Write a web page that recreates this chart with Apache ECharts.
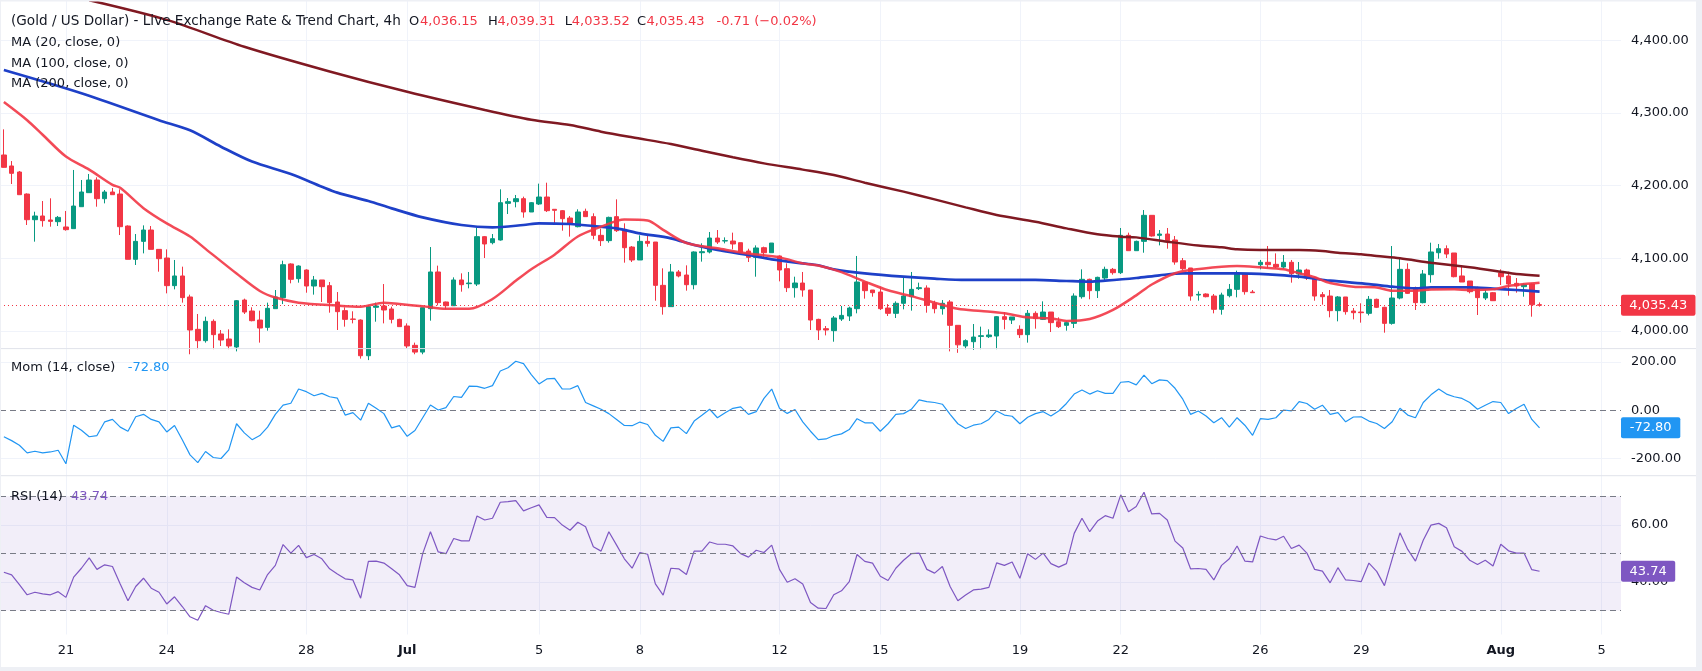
<!DOCTYPE html>
<html><head><meta charset="utf-8">
<script src="https://cdn.jsdelivr.net/npm/echarts@6/dist/echarts.min.js"></script>
<style>html,body{margin:0;padding:0;background:#fff;}#c{width:1702px;height:671px;}</style>
</head><body><div id="c"></div>
<script>
// ---------- DATA ----------
const opens = [
4242.1,4227.0,4218.7,4188.4,4153.1,4158.2,4152.7,4150.4,4143.1,4140.8,
4171.0,4190.3,4207.7,4182.0,4191.2,4188.4,4144.4,4098.6,4123.3,4138.9,
4112.3,4100.4,4062.4,4075.7,4046.8,4002.3,3986.7,4013.3,3995.9,3989.0,
3978,4042.6,4027.5,4015.1,4005.0,4030.7,4045.9,4092.2,4072.0,4083.9,
4061.9,4070.2,4062.4,4039.9,4028.0,4016.5,4015.1,3966,4032.6,4034.4,
4030.3,4016.0,4006.9,3980.3,3971,4030.7,4081.2,4039.9,4034.8,4070.2,
4065.1,4064.6,4129.8,4121.5,4125.2,4175.6,4177.9,4182.0,4163.7,4174.7,
4184.3,4167.4,4165.5,4155.4,4143.5,4164.6,4157.3,4131.6,4124.3,4157.3,
4139.8,4115.5,4097.7,4123.3,4122.4,4062.8,4033.5,4081.2,4077.0,4063.7,
4107.7,4108.7,4127.9,4123.8,4123.8,4121.5,4110.0,4101.3,4114.6,4107.7,
4103.2,4085.7,4059.6,4066.0,4056.4,4016.0,4003.2,4000.5,4016.5,4020.6,
4030.7,4067.4,4056.4,4053.6,4031.6,4024.3,4038.1,4047.2,4058.3,4059.1,
4038.1,4030.7,4039.9,4007.8,3979.4,3985.3,3992.6,3992.2,3993.1,4019.7,
4015.1,4002.3,3995.0,4024.3,4016.0,4026.1,4012.8,4007.8,4010.5,4047.2,
4071.1,4055.5,4072.9,4084.8,4080.2,4131.6,4110.5,4123.3,4159.1,4131.6,
4133.4,4125.2,4096.7,4086.7,4049.5,4050.9,4048.1,4029.8,4048.6,4057.3,
4078.4,4053.6,4091.2,4094.5,4091.7,4088.0,4094.5,4078.4,4083.9,4073.8,
4050.0,4048.1,4028.0,4046.8,4027.5,4026.1,4024.3,4043.6,4032.6,4010.5,
4045.4,4084.8,4059.6,4039.0,4077.5,4107.7,4113.2,4107.3,4075.7,4068.8,
4057.3,4045.4,4052.7,4079.8,4075.7,4065.6,4061.0,4064.6,4036.15];
const highs = [
4277.4,4233.8,4220.1,4189.3,4164.1,4178.8,4182.5,4158.2,4165.1,4221.5,
4207.7,4216.0,4211.4,4193.9,4196.7,4194.9,4145.3,4133.4,4145.3,4144.4,
4112.3,4112.3,4097.7,4088.5,4050.0,4023.4,4019.7,4016.0,4001.4,4002.3,
4042.6,4044.5,4032.6,4028.0,4039.0,4056.4,4096.7,4093.1,4090.3,4084.8,
4075.7,4070.2,4067.4,4053.6,4032.6,4027.1,4016.0,4035.8,4039.0,4064.6,
4033.5,4016.9,4010.5,3984.0,4032.1,4115.5,4089.9,4040.4,4073.8,4079.3,
4081.2,4142.6,4130.7,4133.4,4194.9,4182.9,4187.1,4184.8,4177.4,4202.7,
4204.0,4167.4,4166.4,4158.2,4167.4,4168.3,4161.9,4140.8,4157.3,4181.1,
4148.1,4116.9,4131.6,4133.4,4122.4,4086.2,4092.2,4083.9,4090.3,4109.6,
4120.6,4136.2,4138.9,4128.8,4135.3,4121.5,4113.2,4117.8,4116.0,4121.0,
4104.1,4093.1,4074.7,4081.2,4056.4,4016.9,4006.9,4020.6,4034.4,4033.5,
4103.2,4067.4,4056.4,4061.0,4037.1,4040.8,4073.8,4081.2,4066.5,4062.8,
4041.7,4042.6,4042.6,4007.8,3988.5,4009.6,4006.0,4002.3,4020.6,4026.1,
4019.3,4007.8,4028.9,4027.1,4040.8,4026.1,4018.8,4013.3,4051.8,4084.8,
4072.0,4074.7,4088.5,4086.7,4141.7,4135.3,4124.3,4166.4,4159.1,4138.9,
4141.7,4130.7,4100.4,4086.7,4054.6,4051.8,4050.9,4052.7,4064.6,4083.0,
4079.3,4056.4,4097.7,4116.9,4106.8,4104.5,4097.7,4094.9,4085.7,4074.7,
4053.6,4056.4,4048.1,4046.8,4031.6,4038.1,4048.1,4044.5,4033.5,4116.9,
4100.4,4093.1,4061.0,4083.9,4121.5,4119.7,4117.8,4107.3,4088.5,4068.8,
4061.0,4056.4,4053.6,4084.8,4081.6,4072.9,4065.6,4065.6,4039.31];
const lows = [
4224.7,4202.2,4187.5,4145.8,4122.9,4143.5,4143.5,4144.4,4138.0,4140.8,
4171.0,4190.3,4171.0,4175.6,4187.5,4132.0,4098.6,4090.8,4106.8,4112.3,
4081.6,4051.8,4057.3,4039.0,3968,3975,3984.0,3975,3979.4,3975,
3972,4023.4,4013.3,3984.0,4000.5,4030.7,4037.1,4065.6,4066.5,4052.7,
4050.0,4039.9,4025.2,4001.4,4006.0,4010.5,3962,3960,4012.8,4010.5,
4010.5,4006.0,3976,3968,3968,4014.2,4035.3,4029.8,4034.8,4054.1,
4058.7,4061.9,4100.4,4119.2,4124.3,4160.9,4170.1,4155.9,4163.7,4173.3,
4163.7,4146.3,4138.0,4129.8,4142.6,4157.3,4126.1,4116.9,4121.5,4136.2,
4094.0,4094.9,4097.7,4116.0,4041.7,4022.5,4033.5,4073.8,4055.5,4057.3,
4095.4,4106.8,4119.7,4120.6,4112.3,4104.5,4094.9,4074.7,4100.0,4107.7,
4068.3,4053.6,4045.9,4047.2,4001.4,3987.6,3994.0,3985.3,4013.8,4013.8,
4024.3,4044.5,4047.2,4028.9,4020.6,4017.9,4029.8,4028.0,4056.4,4025.2,
4024.3,4022.5,3972,3970,3975,3974,3975,3990.4,3975,4002.3,
4009.6,3990.4,3984.0,4003.2,4015.1,3998.6,4004.1,4000.5,4004.1,4044.5,
4043.6,4045.4,4067.4,4077.5,4078.4,4110.5,4110.5,4107.7,4129.8,4117.8,
4113.2,4091.2,4083.9,4041.7,4041.7,4046.3,4024.3,4022.5,4046.3,4046.3,
4050.0,4052.7,4084.8,4086.7,4086.7,4085.7,4066.5,4072.0,4070.2,4041.7,
4036.2,4018.8,4013.3,4022.5,4016.0,4011.5,4021.5,4031.6,3997.7,4008.7,
4043.6,4050.9,4028.9,4038.1,4066.5,4099.5,4100.4,4073.8,4067.4,4051.8,
4022.0,4042.6,4041.7,4063.3,4048.6,4052.7,4047.2,4019.7,4033.52];
const closes = [
4225.1,4216.9,4187.5,4153.1,4158.2,4151.8,4150.8,4156.3,4139.4,4171.9,
4191.2,4207.7,4182.0,4191.2,4187.5,4143.5,4098.6,4123.3,4138.9,4112.3,
4099.5,4062.4,4075.7,4045.9,4001.4,3986.7,4013.3,3995.0,3987.6,3979.4,
4041.7,4026.1,4014.2,4004.1,4031.2,4046.8,4091.2,4071.1,4089.4,4061.9,
4070.2,4061.0,4039.0,4026.6,4016.0,4016.0,3966,4033.5,4034.4,4028.9,
4016.0,4006.0,3979.4,3971,4032.1,4081.2,4039.0,4034.8,4070.2,4063.7,
4066.0,4129.8,4119.7,4127.0,4176.5,4177.9,4182.0,4163.7,4176.5,4184.3,
4165.5,4166.0,4154.5,4148.1,4163.7,4157.3,4131.6,4124.3,4156.3,4138.0,
4114.6,4097.7,4123.3,4120.6,4062.8,4033.5,4081.2,4075.7,4063.7,4108.7,
4109.1,4127.9,4122.4,4124.3,4119.7,4107.7,4101.3,4114.2,4107.7,4121.0,
4083.9,4059.6,4066.0,4056.4,4015.1,4001.4,4001.4,4017.9,4021.5,4031.6,
4067.4,4055.5,4052.7,4030.7,4024.3,4038.1,4048.1,4057.3,4059.6,4035.3,
4030.7,4038.1,4007.8,3981,3986.7,3991.7,3993.5,3994.5,4019.7,4016.0,
4019.3,3995.0,4024.3,4017.0,4026.1,4011.5,4006.0,4011.5,4048.1,4071.1,
4055.5,4073.8,4084.8,4080.2,4131.6,4110.5,4123.3,4159.1,4130.7,4133.4,
4124.3,4094.9,4085.7,4048.1,4050.4,4047.2,4029.8,4049.5,4057.3,4079.3,
4054.1,4052.7,4094.5,4091.2,4088.0,4094.5,4078.9,4083.9,4072.9,4048.1,
4047.2,4028.0,4046.8,4026.6,4025.2,4025.2,4043.6,4032.6,4010.5,4045.4,
4084.8,4051.8,4039.0,4078.4,4108.7,4113.2,4105.9,4074.7,4067.4,4054.1,
4045.9,4052.3,4041.7,4074.7,4064.6,4061.9,4063.7,4036.14,4035.43];

// moving averages at candle indices
const ma20Idx = [0,3,5,8,11,14,15,18,21,24,26,30,33,35,38,43,46,49,51,54,57,60,63,66,68,71,74,77,80,83,85,88,92,96,100,103,105,108,111,114,117,120,123,126,129,132,135,137,140,143,146,148,151,153,157,159,162,165,167,169,171,174,177,179,182,184,187,189,192,194,196,198];
const ma20Val = [4315,4290,4270,4240,4222,4201,4197,4169,4148,4130,4113,4079,4055,4046,4039,4035,4033.5,4039,4037,4034,4030.5,4030.5,4044,4069,4085,4105,4130,4143.5,4153.5,4152,4139,4121,4113.7,4106.5,4101.3,4093,4090,4081,4068,4056,4048,4039,4030.5,4027.5,4024.3,4018.8,4017.4,4013.8,4016.5,4029,4049,4064,4079.5,4084,4088.5,4089.4,4087.6,4085,4079.5,4074,4066,4061,4060,4055.5,4055.5,4057,4057.3,4056.4,4057.3,4062,4064.6,4066.5];
const ma100Idx = [0,10,20,24,28,32,37,41,43,47,50,54,59,63,67,69,73,76,79,82,86,89,92,96,99,103,105,107,111,116,120,124,129,133,137,140,142,146,149,152,157,159,163,167,171,176,179,182,184,189,192,195,198];
const ma100Val = [4359,4327,4290,4276,4253.5,4233,4216,4198.5,4190.3,4178.8,4168.7,4156.3,4145.8,4142.6,4145.8,4148.1,4147.2,4144.4,4141.2,4134.3,4127.5,4118.3,4111.4,4104.5,4098.6,4093,4090.5,4084.8,4079.3,4074.7,4072,4070.2,4070.2,4070.2,4068.8,4067.9,4069.2,4072.9,4076.6,4079.3,4079.3,4079.3,4077.9,4074.7,4069.2,4064.6,4061,4058.7,4060.1,4060.1,4058.3,4056.4,4054.1];
const ma200Idx = [11,21,31,42,52,62,68,73,77,81,86,90,94,98,103,107,111,116,120,124,128,133,137,141,144,146,150,154,157,159,162,165,167,170,172,175,177,180,184,189,193,195,198];
const ma200Val = [4455,4428,4391,4357,4329,4304,4290.5,4283.4,4274.2,4266.4,4257.2,4248,4238.9,4230.6,4222,4214.6,4204,4191.7,4181.1,4170.1,4159.6,4150.4,4141.2,4133,4129.8,4128.8,4122.9,4117.5,4115.1,4112.3,4111.4,4111.4,4111.4,4110,4107.7,4105.5,4103.2,4100,4094,4087.6,4081.6,4078.4,4076.1];

const momentum = [
-110,-126,-145,-177,-170,-177,-173,-166,-222,-62,
-83,-110,-105,-48,-38,-70,-87,-27,-17,-38,
-48,-90,-63,-122,-185,-217,-171,-196,-200,-164,
-56,-94,-122,-105,-70,-17,21,29,88,77,
60,70,56,50,-20,-10,-41,29,8,-14,
-73,-64,-108,-84,-31,22,1,11,57,53,
100,99,91,102,163,176,203,193,148,109,
130,132,88,88,102,32,18,4,-14,-38,
-63,-64,-49,-59,-104,-129,-73,-70,-97,-45,
-21,4,-31,-10,8,14,-17,-6,49,88,
8,-13,3,-48,-87,-122,-119,-105,-98,-80,
-35,-52,-52,-87,-56,-17,-14,4,43,36,
32,25,-17,-56,-76,-62,-56,-38,-3,-20,
-25,-56,-29,-14,-6,-24,-3,28,67,84,
67,81,70,70,116,119,105,146,110,126,
123,91,46,-17,-3,-24,-52,-31,-70,-31,
-62,-104,-35,-38,-31,1,-3,36,28,4,
21,-17,-10,-48,-28,-27,-45,-55,-76,-48,
8,-20,-31,32,64,88,67,56,49,32,
4,21,36,32,-14,7,25,-38,-72.8];
const rsi = [
43.4,42.5,39.1,35.5,36.4,35.8,35.5,36.6,34.6,41.7,
44.8,48.4,44.4,46.0,45.4,39.3,33.4,38.4,41.3,37.8,
36.4,32.3,34.8,31.4,27.8,26.6,31.7,30.1,29.3,28.7,
41.7,39.7,38.1,37.2,42.6,45.8,53.1,50.1,52.8,48.5,
49.6,48.1,44.6,42.8,41.1,40.7,34.3,47.2,47.3,46.6,
44.6,42.5,38.7,38.1,49.9,57.6,50.5,49.9,55.2,54.4,
54.4,63.1,61.7,62.3,67.9,68.1,68.5,64.9,66.0,67.0,
62.6,62.5,59.9,58.1,60.9,59.3,52.3,50.8,57.6,52.9,
48.1,44.8,50.3,49.7,39.3,35.4,44.8,44.6,42.6,50.8,
50.8,54.0,53.2,53.2,52.6,49.9,48.7,51.1,50.3,52.9,
44.4,39.9,41.1,39.3,32.8,30.8,30.7,35.5,36.9,40.1,
49.6,47.2,46.6,42.0,40.5,44.8,47.6,49.9,50.1,44.4,
43.1,45.4,38.4,33.4,35.4,37.2,37.5,38.1,46.7,45.8,
47.0,41.3,49.9,47.9,50.1,46.4,45.2,46.4,57.0,62.3,
57.6,61.3,63.2,62.3,70.5,64.6,66.4,71.4,63.8,64.0,
61.7,54.3,51.9,44.6,44.7,44.4,40.7,45.8,48.1,52.6,
47.3,47.0,56.1,55.2,54.7,56.0,51.7,52.9,50.1,44.4,
43.8,39.7,45.0,40.7,40.5,40.1,46.6,43.7,38.7,48.1,
57.2,51.4,47.3,54.6,59.9,60.5,59.0,52.3,50.7,47.6,
46.1,47.6,45.6,53.2,50.9,50.1,50.1,44.3,43.74];

const dateTickIdx  = [8,21,39,52,69,82,100,113,131,144,162,175,193,206];
const dateTickText = ['21','24','28','Jul','5','8','12','15','19','22','26','29','Aug','5'];
const priceTicks = [4000,4100,4200,4300,4400];
const momTicks = [-200,0,200];
const momGridTicks = [-200,200];
const rsiTicks = [40,60];
const rsiLevels = [70,50,30];
const rsiBand = [70,30];

// ---------- BUILD ----------
const FONT = '"DejaVu Sans", Verdana, sans-serif';
const FS = 13;
const TXT = '#131722', RED = '#f23645', GREEN = '#089981';
const N_SLOTS = 209;
const cats = Array.from({length: N_SLOTS}, (_, i) => String(i));
const candles = opens.map((o, i) => [o, closes[i], lows[i], highs[i]]);
const pairs = (ix, v) => ix.map((x, i) => [x, v[i]]);
function fmt(v) {
  const s = Math.abs(v).toFixed(2).split('.');
  return (v < 0 ? '-' : '') + s[0].replace(/\B(?=(\d{3})+(?!\d))/g, ',') + '.' + s[1];
}
const n = closes.length;
const lastO = opens[n-1], lastH = highs[n-1], lastL = lows[n-1], lastC = closes[n-1];
const chg = lastC - closes[n-2];
const chgPct = chg / closes[n-2] * 100;
const lastMom = momentum[momentum.length-1];
const lastRsi = rsi[rsi.length-1];

const L = -1, R = 81;
const grids = [
  {left: L, right: R, top: 0, height: 348.6},
  {left: L, right: R, top: 348.6, height: 127.1},
  {left: L, right: R, top: 475.7, height: 158.8}
];
function xAx(gi, labels) {
  return {
    type: 'category', gridIndex: gi, data: cats, boundaryGap: true,
    axisLine: {show: false}, axisTick: {show: false}, splitLine: {show: false},
    axisLabel: labels ? {
      show: true, interval: (i) => dateTickIdx.includes(i),
      formatter: (v) => { const t = dateTickText[dateTickIdx.indexOf(+v)]; return (t === 'Jul' || t === 'Aug') ? '{b|' + t + '}' : t; },
      color: TXT, fontSize: FS, fontFamily: FONT, margin: 10,
      rich: {b: {fontWeight: 'bold', fontSize: FS, color: TXT, fontFamily: FONT}}
    } : {show: false}
  };
}
function yAx(gi, min, max, labelVals, gridVals, f) {
  return {
    type: 'value', gridIndex: gi, position: 'right', min, max, scale: true,
    axisLine: {show: false},
    axisTick: {show: false, customValues: gridVals},
    axisLabel: {customValues: labelVals, formatter: f, color: TXT, fontSize: FS, fontFamily: FONT, margin: 10},
    splitLine: {show: true, lineStyle: {color: '#f0f3fa', width: 1}}
  };
}
function vgrid(gi) {
  return {
    type: 'line', xAxisIndex: gi, yAxisIndex: gi, data: [], silent: true, z: 0,
    markLine: {silent: true, z: 0, symbol: ['none', 'none'], animation: false, label: {show: false},
      lineStyle: {color: '#f0f3fa', type: 'solid', width: 1},
      data: dateTickIdx.map(i => ({xAxis: i}))}
  };
}
function badgeLabel(text, bg, padH) {
  return {show: true, position: 'end', formatter: text, color: '#fff', backgroundColor: bg, opacity: 1,
    padding: [3, padH, 3, padH], lineHeight: 15, fontSize: FS, fontFamily: FONT, distance: 0, borderRadius: 2};
}
function badge(val, text, bg, padH) {
  return {yAxis: val, lineStyle: {width: 0, color: 'rgba(0,0,0,0)', opacity: 1}, label: badgeLabel(text, bg, padH)};
}
const dash = {color: '#787b86', type: [6, 4], width: 1};

function t(x, y, text, fill, size) {
  return {type: 'text', x, y, silent: true, z: 100,
    style: {text, fill, fontSize: size || FS, fontFamily: FONT, verticalAlign: 'middle', align: 'left'}};
}

const option = {
  animation: false,
  backgroundColor: '#ffffff',
  grid: grids,
  xAxis: [xAx(0, false), xAx(1, false), xAx(2, true)],
  yAxis: [
    yAx(0, 3975.8, 4455.3, priceTicks, priceTicks, fmt),
    yAx(1, -271.4, 255.6, momTicks, momGridTicks, v => v.toFixed(2)),
    yAx(2, 21.6, 77.2, rsiTicks, rsiTicks, v => v.toFixed(2))
  ],
  series: [
    vgrid(0), vgrid(1), vgrid(2),
    {
      type: 'candlestick', xAxisIndex: 0, yAxisIndex: 0, data: candles, barWidth: 5, clip: true,
      itemStyle: {color: GREEN, color0: RED, borderColor: GREEN, borderColor0: RED, borderWidth: 1},
      markLine: {silent: true, symbol: ['none', 'none'], animation: false,
        data: [{yAxis: lastC, lineStyle: {color: RED, type: [1, 3], width: 1}, label: badgeLabel(fmt(lastC), RED, 8.3)}]}
    },
    {type: 'line', xAxisIndex: 0, yAxisIndex: 0, data: pairs(ma200Idx, ma200Val), showSymbol: false, smooth: 0.3,
      lineStyle: {color: '#801922', width: 2.5}, silent: true},
    {type: 'line', xAxisIndex: 0, yAxisIndex: 0, data: pairs(ma100Idx, ma100Val), showSymbol: false, smooth: 0.3,
      lineStyle: {color: '#1e40c8', width: 2.7}, silent: true},
    {type: 'line', xAxisIndex: 0, yAxisIndex: 0, data: pairs(ma20Idx, ma20Val), showSymbol: false, smooth: 0.3,
      lineStyle: {color: '#f23645', width: 2.5, opacity: 0.9}, silent: true},
    {type: 'line', xAxisIndex: 1, yAxisIndex: 1, data: momentum, showSymbol: false, silent: true,
      lineStyle: {color: '#2196f3', width: 1.2},
      markLine: {silent: true, symbol: ['none', 'none'], animation: false,
        data: [{yAxis: 0, lineStyle: dash, label: {show: false}}, badge(lastMom, lastMom.toFixed(2), '#2196f3', 8.7)]}},
    {type: 'line', xAxisIndex: 2, yAxisIndex: 2, data: rsi, showSymbol: false, silent: true,
      lineStyle: {color: '#7e57c2', width: 1.2},
      markArea: {silent: true, itemStyle: {color: 'rgba(126,87,194,0.1)'}, data: [[{yAxis: rsiBand[0]}, {yAxis: rsiBand[1]}]]},
      markLine: {silent: true, symbol: ['none', 'none'], animation: false,
        data: rsiLevels.map(v => ({yAxis: v, lineStyle: dash, label: {show: false}})).concat([badge(lastRsi, lastRsi.toFixed(2), '#7e57c2', 8.5)])}}
  ],
  graphic: [
    {type: 'line', silent: true, shape: {x1: 0, y1: 348.6, x2: 1696, y2: 348.6}, style: {stroke: '#e0e3eb', lineWidth: 1}, z: 50},
    {type: 'line', silent: true, shape: {x1: 0, y1: 475.7, x2: 1696, y2: 475.7}, style: {stroke: '#e0e3eb', lineWidth: 1}, z: 50},
    {type: 'rect', silent: true, shape: {x: 1696, y: 0, width: 6, height: 671}, style: {fill: '#eef0f5'}, z: 50},
    {type: 'rect', silent: true, shape: {x: 0, y: 667, width: 1702, height: 4}, style: {fill: '#eef0f5'}, z: 50},
    {type: 'rect', silent: true, shape: {x: 0, y: 0, width: 1, height: 671}, style: {fill: '#eef0f5'}, z: 50},
    {type: 'rect', silent: true, shape: {x: 0, y: 0, width: 1702, height: 1.5}, style: {fill: '#eef0f5'}, z: 50},
    t(11, 21.7, '(Gold / US Dollar) - Live Exchange Rate & Trend Chart, 4h', TXT, 13.6),
    t(409, 21.7, 'O', TXT), t(420, 21.7, fmt(lastO), RED),
    t(488, 21.7, 'H', TXT), t(497.6, 21.7, fmt(lastH), RED),
    t(564.8, 21.7, 'L', TXT), t(571.8, 21.7, fmt(lastL), RED),
    t(636.9, 21.7, 'C', TXT), t(646.6, 21.7, fmt(lastC), RED),
    t(716.5, 21.7, chg.toFixed(2) + ' (\u2212' + Math.abs(chgPct).toFixed(2) + '%)', RED),
    t(11, 42.7, 'MA (20, close, 0)', TXT),
    t(11, 63.3, 'MA (100, close, 0)', TXT),
    t(11, 84, 'MA (200, close, 0)', TXT),
    t(11, 367.8, 'Mom (14, close)', TXT), t(127.7, 367.8, lastMom.toFixed(2), '#2196f3'),
    t(11, 496.5, 'RSI (14)', TXT), t(71, 496.5, lastRsi.toFixed(2), '#7e57c2')
  ]
};
const chart = echarts.init(document.getElementById('c'), null, {renderer: 'canvas'});
chart.setOption(option);
</script>
</body></html>
